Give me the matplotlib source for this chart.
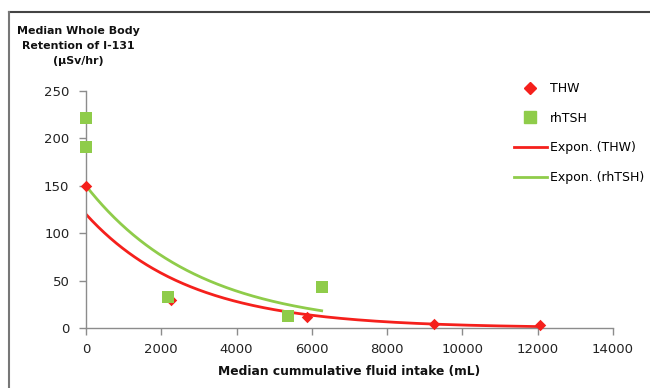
import numpy as np
import matplotlib.pyplot as plt
from matplotlib.lines import Line2D

# Datos
thw_x = [0, 2270, 5860, 9240, 12060]
thw_y = [150, 30, 12, 4.5, 3]
rh_x = [0, 0, 2190, 5375, 6260]
rh_y = [222, 191, 33, 13, 43]

# Lineas de tendencia exponencial y = a * exp(-b x)
thw_trend = [120, 3.65e-4]
rh_trend = [150, 3.37e-4]

x_ticks = [0, 2000, 4000, 6000, 8000, 10000, 12000, 14000]
y_ticks = [0, 50, 100, 150, 200, 250]

red = '#f5201c'
green = '#8fcc4a'
gray = '#8c8c8c'

fig = plt.figure(figsize=(6.5, 3.88), dpi=100)
ax = fig.add_axes([86 / 650, 60 / 388, 527 / 650, 237 / 388])

# Tendencias
xt = np.linspace(0, max(thw_x), 300)
ax.plot(xt, thw_trend[0] * np.exp(-thw_trend[1] * xt), color=red, lw=2, zorder=2)
xr = np.linspace(0, max(rh_x), 300)
ax.plot(xr, rh_trend[0] * np.exp(-rh_trend[1] * xr), color=green, lw=2, zorder=2)

# Puntos
ax.scatter(thw_x, thw_y, marker='D', s=34, color=red, zorder=3, clip_on=False, linewidths=0)
ax.scatter(rh_x, rh_y, marker='s', s=80, color=green, zorder=4, clip_on=False, linewidths=0)

ax.set_xlim(0, 14000)
ax.set_ylim(0, 250)
ax.set_xticks(x_ticks)
ax.set_yticks(y_ticks)
for s in ['top', 'right']:
    ax.spines[s].set_visible(False)
for s in ['left', 'bottom']:
    ax.spines[s].set_color(gray)
    ax.spines[s].set_linewidth(1)
ax.tick_params(colors=gray, labelcolor='#222222', labelsize=9.5, length=5, width=1)
ax.tick_params(axis='y', pad=7)
ax.tick_params(axis='x', pad=6)

ax.set_xlabel('Median cummulative fluid intake (mL)', fontsize=8.8,
              fontweight='bold', color='#111111', labelpad=6)
fig.text(78 / 650, 1 - 46 / 388, 'Median Whole Body\nRetention of I-131\n(µSv/hr)',
         ha='center', va='center', fontsize=7.9, fontweight='bold',
         linespacing=1.6, color='#111111')

handles = [
    Line2D([], [], marker='D', color=red, ls='none', markersize=6),
    Line2D([], [], marker='s', color=green, ls='none', markersize=9),
    Line2D([], [], color=red, lw=2),
    Line2D([], [], color=green, lw=2),
]
labels = ['THW', 'rhTSH', 'Expon. (THW)', 'Expon. (rhTSH)']
fig.legend(handles, labels, loc='upper left', bbox_to_anchor=(514 / 650, 1 - 82 / 388),
           frameon=False, fontsize=9, handlelength=2.6, handletextpad=0.3,
           labelspacing=1.33, borderpad=0, borderaxespad=0)

# Marco de la figura (solo arriba e izquierda)
fig.add_artist(Line2D([9 / 650, 1], [1 - 12 / 388, 1 - 12 / 388], color='#444444', lw=1.5))
fig.add_artist(Line2D([9 / 650, 9 / 650], [0, 1 - 12 / 388], color='#777777', lw=1.5))

fig.savefig('out.png', dpi=100)
